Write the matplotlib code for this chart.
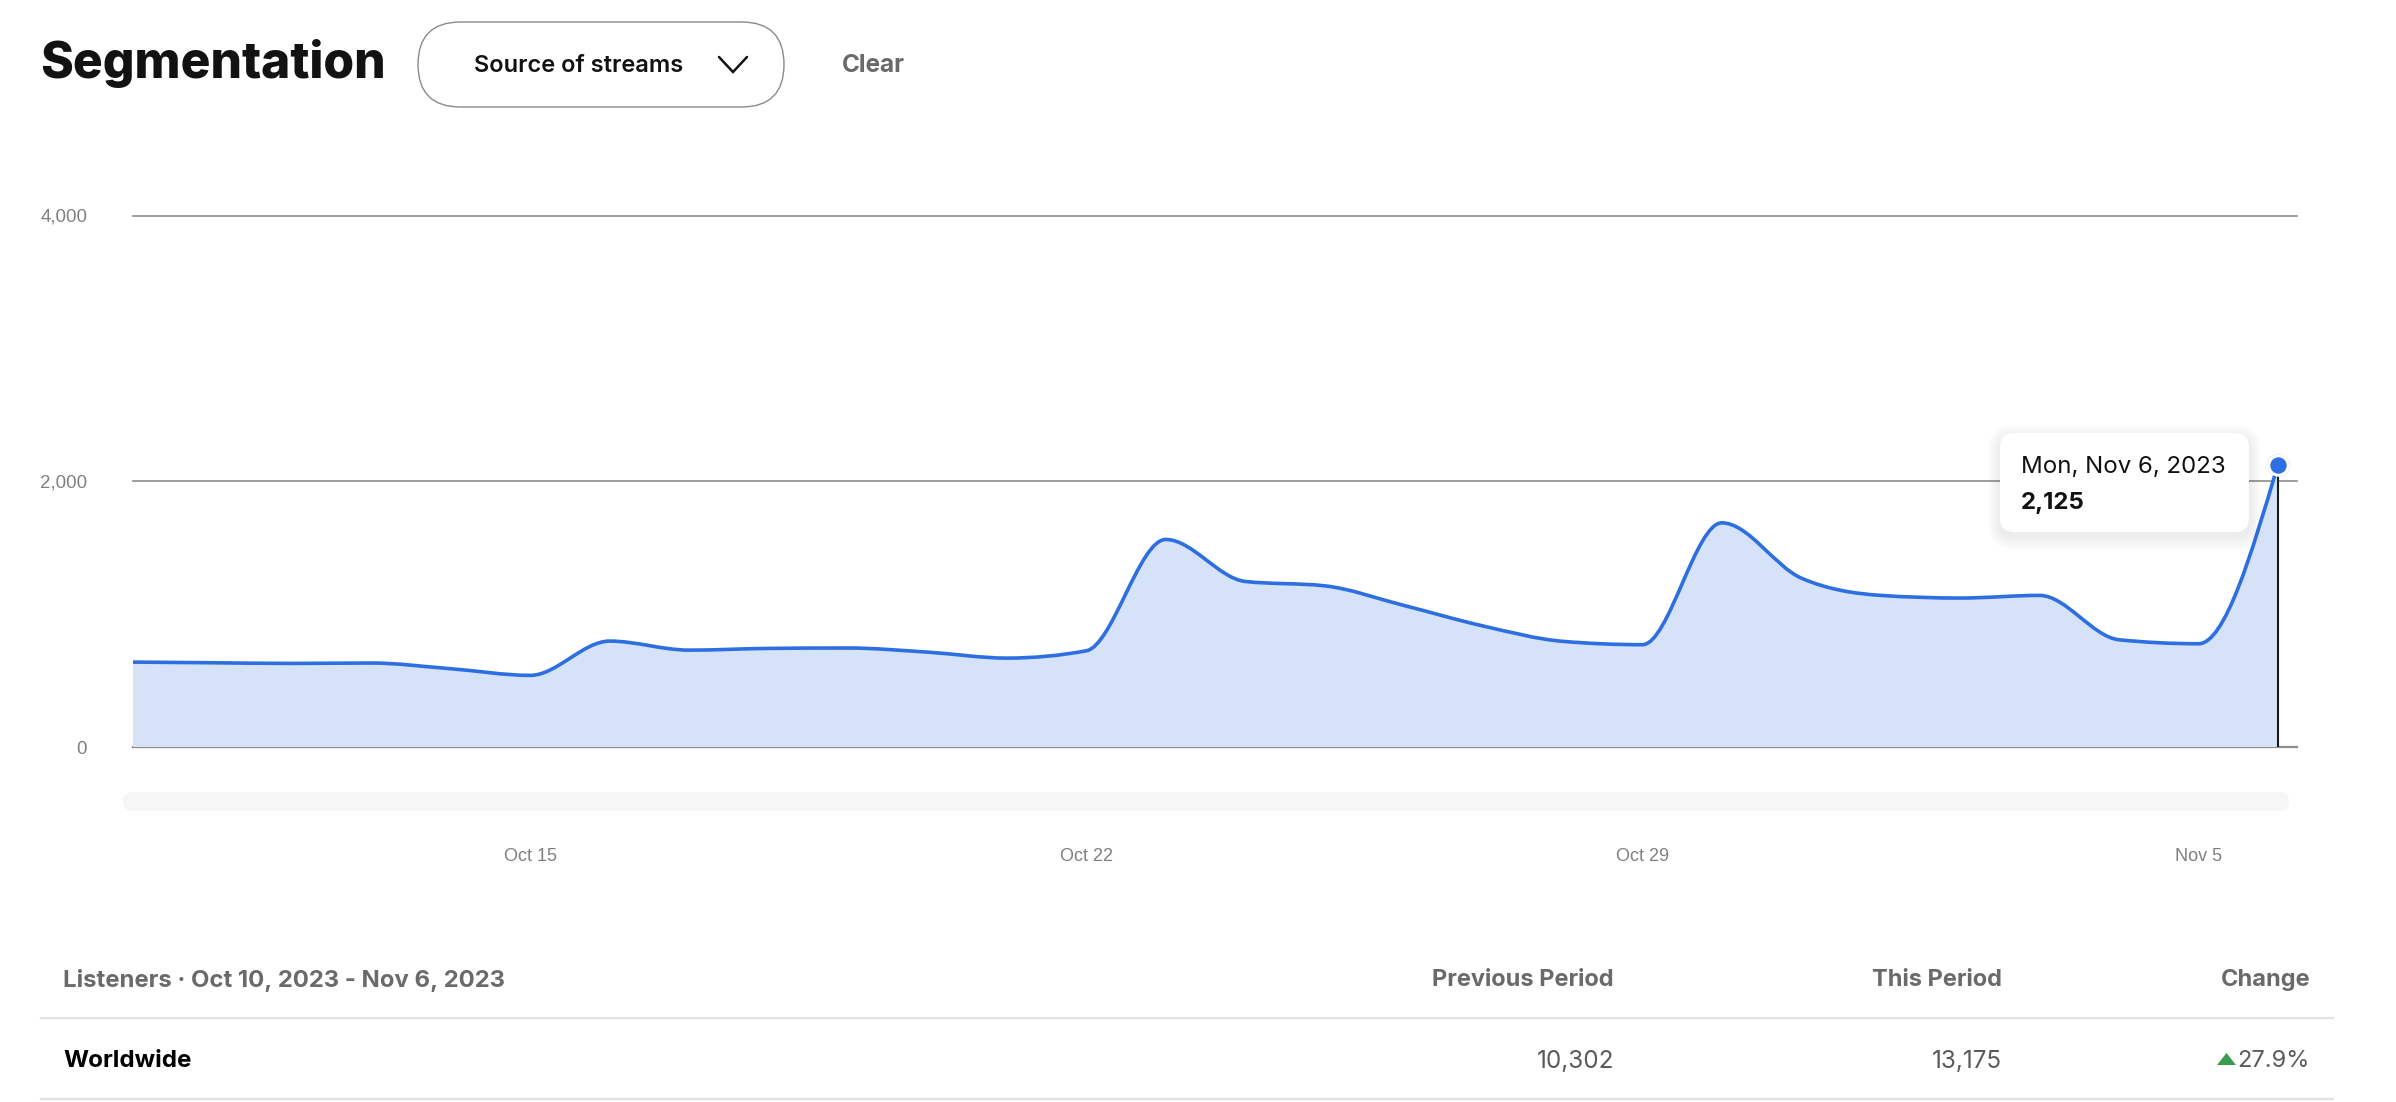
import numpy as np
import pandas as pd
import matplotlib
matplotlib.use("Agg")
import matplotlib.pyplot as plt
import matplotlib.dates as mdates
from matplotlib.path import Path
from matplotlib.patches import PathPatch, FancyBboxPatch, Polygon

# data
dates = pd.date_range("2023-10-10", "2023-11-06", freq="D")
listeners = [639, 634, 629, 632, 589, 539,
             797, 729, 742, 745, 714, 669, 724,
             1562, 1246, 1213, 1065, 910, 795, 770,
             1687, 1271, 1141, 1121, 1141, 807, 777,
             2125]
y_ticks = [0, 2000, 4000]
y_tick_labels = ["0", "2,000", "4,000"]
x_tick_dates = ["2023-10-15", "2023-10-22", "2023-10-29", "2023-11-05"]
x_tick_labels = ["Oct 15", "Oct 22", "Oct 29", "Nov 5"]
table_title = "Listeners \u00b7 Oct 10, 2023 - Nov 6, 2023"
table_columns = ["Previous Period", "This Period", "Change"]
table_row = "Worldwide"
previous_period = 10302
this_period = 13175

W, H = 2396, 1102
UI = ["Inter", "DejaVu Sans"]
BLUE = "#2d6fe0"
FILL = "#d6e2f8"


def monotone_path(x, y, base=None):
    # same curve as d3 curveMonotoneX, as cubic bezier segments
    x = np.asarray(x, float)
    y = np.asarray(y, float)
    h = np.diff(x)
    s = np.diff(y) / h
    t = np.zeros_like(y)
    sg = lambda v: -1.0 if v < 0 else 1.0
    for i in range(1, len(y) - 1):
        p = (s[i - 1] * h[i] + s[i] * h[i - 1]) / (h[i - 1] + h[i])
        t[i] = (sg(s[i - 1]) + sg(s[i])) * min(abs(s[i - 1]), abs(s[i]), 0.5 * abs(p))
    t[0] = (3 * s[0] - t[1]) / 2
    t[-1] = (3 * s[-1] - t[-2]) / 2
    verts = [(x[0], y[0])]
    codes = [Path.MOVETO]
    for i in range(len(h)):
        d = h[i] / 3
        verts += [(x[i] + d, y[i] + d * t[i]), (x[i + 1] - d, y[i + 1] - d * t[i + 1]),
                  (x[i + 1], y[i + 1])]
        codes += [Path.CURVE4] * 3
    if base is not None:
        verts += [(x[-1], base), (x[0], base), (x[0], y[0])]
        codes += [Path.LINETO, Path.LINETO, Path.CLOSEPOLY]
    return Path(verts, codes)


def main():
    fig = plt.figure(figsize=(W / 100, H / 100), dpi=100)
    fig.patch.set_facecolor("white")

    # chart
    ax = fig.add_axes([133 / W, 1 - 747 / H, (2297 - 133) / W, (747 - 215.5) / H])
    xs = mdates.date2num(dates)
    ax.set_xlim(xs[0], xs[0] + 27.24)
    ax.set_ylim(0, 4000)
    for v in y_ticks:
        ax.axhline(v, color="#8c8c8c", lw=1.6 if v == 0 else 1.2, zorder=1, clip_on=False)
    ax.add_patch(PathPatch(monotone_path(xs, listeners, base=0), facecolor=FILL,
                           edgecolor="none", zorder=2))
    ax.add_patch(PathPatch(monotone_path(xs, listeners), facecolor="none",
                           edgecolor=BLUE, lw=2.6, zorder=3, capstyle="round"))
    ax.plot([xs[-1], xs[-1]], [0, listeners[-1]], color="#1a1a1a", lw=1.5, zorder=4)
    ax.plot(xs[-1], listeners[-1], "o", ms=16, color="#000000", alpha=0.08,
            zorder=5, clip_on=False)
    ax.plot(xs[-1], listeners[-1], "o", ms=14, mfc=BLUE, mec="white", mew=2.2,
            zorder=6, clip_on=False)

    ax.set_yticks(y_ticks)
    ax.set_yticklabels(y_tick_labels, family="Liberation Sans", fontsize=13.5,
                       color="#808080")
    ax.set_xticks(mdates.date2num(pd.to_datetime(x_tick_dates)))
    ax.set_xticklabels(x_tick_labels, family="Liberation Sans", fontsize=13,
                       color="#808080")
    ax.tick_params(axis="y", length=0, pad=33)
    ax.tick_params(axis="x", length=0, pad=73)
    for sp in ax.spines.values():
        sp.set_visible(False)
    ax.set_facecolor("none")

    # overlay in pixel coordinates (y down)
    ov = fig.add_axes([0, 0, 1, 1])
    ov.set_xlim(0, W)
    ov.set_ylim(H, 0)
    ov.axis("off")

    ov.text(40, 63, "Segmentation", family=UI, fontsize=35.8, fontweight="heavy",
            color="#121212", va="center", ha="left")
    ov.add_patch(FancyBboxPatch((418, 22), 366, 85,
                                boxstyle="round,pad=0,rounding_size=42.5",
                                facecolor="white", edgecolor="#8a8a8a", lw=1.0))
    ov.text(474, 66, "Source of streams", family=UI, fontsize=17, fontweight="semibold",
            color="#121212", va="center", ha="left")
    ov.plot([719, 733, 747], [57, 72, 57], color="#121212", lw=1.8,
            solid_capstyle="round", solid_joinstyle="miter")
    ov.text(842, 66, "Clear", family=UI, fontsize=17.5, fontweight="bold",
            color="#6a6a6a", va="center", ha="left")

    # scrollbar track
    ov.add_patch(FancyBboxPatch((123, 792), 2166, 19,
                                boxstyle="round,pad=0,rounding_size=9.5",
                                facecolor="#f6f6f6", edgecolor="none"))

    # tooltip
    for k in range(6, 0, -1):
        ov.add_patch(FancyBboxPatch((2000 - k * 2, 434 - k * 2 + 3), 249 + k * 4, 100 + k * 4,
                                    boxstyle="round,pad=0,rounding_size=%g" % (14 + k * 2),
                                    facecolor="black", edgecolor="none", alpha=0.012))
    ov.add_patch(FancyBboxPatch((2000, 433), 249, 99,
                                boxstyle="round,pad=0,rounding_size=14",
                                facecolor="white", edgecolor="none"))
    ov.text(2021, 467, "Mon, Nov 6, 2023", family=UI, fontsize=17.3,
            color="#111111", va="center", ha="left")
    ov.text(2021, 503, f"{listeners[-1]:,}", family=UI, fontsize=17.3,
            fontweight="bold", color="#111111", va="center", ha="left")

    # table
    col_right = [1614, 2002, 2310]
    ov.text(63, 980, table_title, family=UI, fontsize=17.2, fontweight="bold",
            color="#6a6a6a", va="center", ha="left")
    for xr, name in zip(col_right, table_columns):
        ov.text(xr, 980, name, family=UI, fontsize=17, fontweight="bold",
                color="#6a6a6a", va="center", ha="right")
    ov.plot([41, 2333], [1018, 1018], color="#e2e2e2", lw=1.6)
    ov.plot([41, 2333], [1099, 1099], color="#e2e2e2", lw=1.6)
    ov.text(63, 1061, table_row, family=UI, fontsize=17.4, fontweight="bold",
            color="#000000", va="center", ha="left")
    change = (this_period - previous_period) / previous_period * 100
    ov.text(col_right[0], 1061, f"{previous_period:,}", family=UI, fontsize=17.5,
            color="#5a5a5a", va="center", ha="right")
    ov.text(col_right[1], 1061, f"{this_period:,}", family=UI, fontsize=17.5,
            color="#5a5a5a", va="center", ha="right")
    ov.text(col_right[2], 1061, f"{change:.1f}%", family=UI, fontsize=17,
            color="#5a5a5a", va="center", ha="right")
    ov.add_patch(Polygon([(2217, 1065), (2236, 1065), (2226.5, 1053)],
                         closed=True, facecolor="#3a9a4e", edgecolor="none"))

    fig.savefig("out.png", dpi=100, facecolor="white")


if __name__ == '__main__':
    main()
